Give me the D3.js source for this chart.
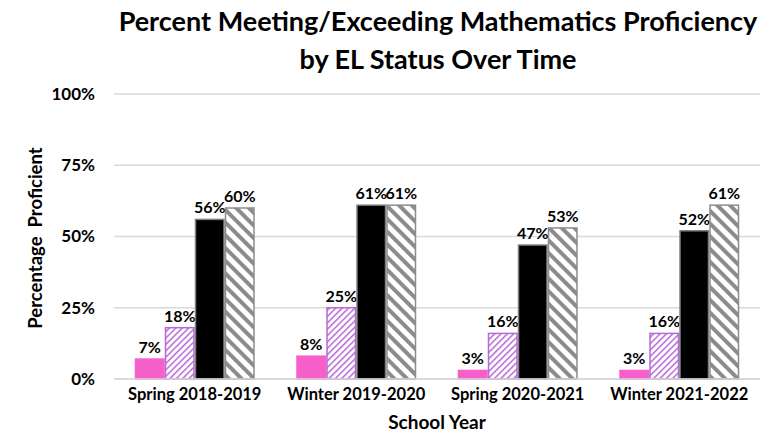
<!DOCTYPE html>
<html><head><meta charset="utf-8">
<script src="https://cdn.jsdelivr.net/npm/d3@7"></script>
<style>body{margin:0;background:#fff}text{font-family:Lato,"Open Sans",sans-serif;font-weight:bold}</style>
</head><body><svg id="c" width="774" height="433"></svg>
<script>
const categories = ["Spring 2018-2019","Winter 2019-2020","Spring 2020-2021","Winter 2021-2022"];
const seriesNames = ["EL","EL hatched","Non-EL","Non-EL hatched"];
const s1 = [7, 8, 3, 3];
const s2 = [18, 25, 16, 16];
const s3 = [56, 61, 47, 52];
const s4 = [60, 61, 53, 61];
const yTicks = [0, 25, 50, 75, 100];
const series = [s1, s2, s3, s4];

const svg = d3.select("#c");
const defs = svg.append("defs");
const p1 = defs.append("pattern").attr("id","hpink").attr("patternUnits","userSpaceOnUse")
  .attr("width",4.5).attr("height",4.5).attr("patternTransform","rotate(45)");
p1.append("rect").attr("width",4.5).attr("height",4.5).attr("fill","#fff");
p1.append("rect").attr("width",1.5).attr("height",4.5).attr("fill","#b76ad4");
const p2 = defs.append("pattern").attr("id","hgray").attr("patternUnits","userSpaceOnUse")
  .attr("width",9).attr("height",9).attr("patternTransform","rotate(-45)");
p2.append("rect").attr("width",9).attr("height",9).attr("fill","#fff");
p2.append("rect").attr("width",4).attr("height",9).attr("fill","#8c8c8c");

const fills = ["#f75fcb","url(#hpink)","#000","url(#hgray)"];
const strokes = ["#f75fcb","#b76ad4","#7f7f7f","#8c8c8c"];

const y = d3.scaleLinear().domain([0,100]).range([379,94]);
const x0 = d3.scaleBand().domain(categories).range([114,760]).paddingInner(0.257).paddingOuter(0.1285);
const x1 = d3.scaleBand().domain(d3.range(4)).range([0,x0.bandwidth()]);

svg.append("g").selectAll("line").data(yTicks).join("line")
  .attr("x1",114).attr("x2",760).attr("y1",d=>y(d)).attr("y2",d=>y(d))
  .attr("stroke","#d9d9d9").attr("stroke-width",1.5);

const ya = svg.append("g").attr("transform","translate(95,0)")
  .call(d3.axisLeft(y).tickValues(yTicks).tickSize(0).tickPadding(0).tickFormat(d=>d+"%"));
ya.select(".domain").remove();
ya.selectAll("text").attr("font-size",17).attr("fill","#000").style("font-family","Lato,sans-serif").attr("font-weight","bold");

const g = svg.append("g");
categories.forEach((c,i)=>{
  series.forEach((s,j)=>{
    const bx = x0(c)+x1(j), bw = x1.bandwidth(), v = s[i];
    g.append("rect").attr("x",bx+0.75).attr("y",y(v)).attr("width",bw-1.5).attr("height",y(0)-y(v))
      .attr("fill",fills[j]).attr("stroke",strokes[j]).attr("stroke-width",1.5);
    g.append("text").attr("x",bx+bw/2).attr("y",y(v)-6).attr("text-anchor","middle")
      .attr("font-size",16).attr("fill","#000").text(v+"%");
  });
});

svg.append("line").attr("x1",114).attr("x2",760).attr("y1",y(0)).attr("y2",y(0)).attr("stroke","#d9d9d9").attr("stroke-width",1.5);

const xa = svg.append("g").attr("transform","translate(0,385)")
  .call(d3.axisBottom(x0).tickSize(0).tickPadding(3));
xa.select(".domain").remove();
xa.selectAll("text").attr("font-size",16.5).attr("fill","#000").style("font-family","Lato,sans-serif").attr("font-weight","bold").attr("dy","0.71em");

svg.append("text").attr("x",437).attr("y",429).attr("text-anchor","middle").attr("font-size",19).text("School Year");
svg.append("text").attr("transform","translate(42,238) rotate(-90)").attr("text-anchor","middle")
  .attr("font-size",18.5).attr("xml:space","preserve").style("white-space","pre").text("Percentage  Proficient");

svg.append("text").attr("x",438).attr("y",31).attr("text-anchor","middle").attr("font-size",27).text("Percent Meeting/Exceeding Mathematics Proficiency");
svg.append("text").attr("x",438).attr("y",69).attr("text-anchor","middle").attr("font-size",27).text("by EL Status Over Time");
</script></body></html>
